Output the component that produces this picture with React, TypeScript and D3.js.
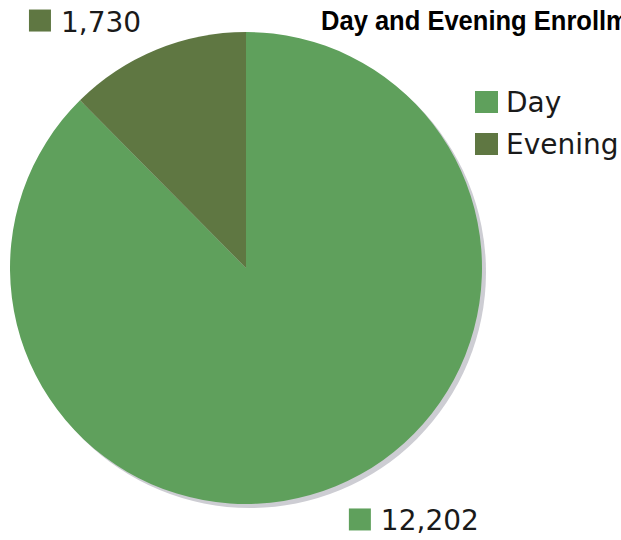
import * as d3 from 'd3';
import React, { useRef, useEffect } from 'react';

const categories = ['Day', 'Evening'];
const values = [12202, 1730];
const colors = ['#5fa05c', '#5f7742'];
const title = 'Day and Evening Enrollment';

const App = () => {
  const ref = useRef(null);
  const width = 621, height = 540;
  const cx = 246, cy = 268, radius = 236;
  const font = 'DejaVu Sans, Verdana, sans-serif';

  useEffect(() => {
    const svg = d3.select(ref.current);
    svg.selectAll('*').remove();

    const data = categories.map((c, i) => ({ name: c, value: values[i] }));
    const pie = d3.pie().value((d) => d.value).sort(null);
    const arcs = pie(data);
    const arc = d3.arc().innerRadius(0).outerRadius(radius);

    // shadow
    svg.append('circle')
      .attr('cx', cx + 4).attr('cy', cy + 4).attr('r', radius)
      .attr('fill', '#cdcdd3');

    const g = svg.append('g').attr('transform', 'translate(' + cx + ',' + cy + ')');
    g.selectAll('path')
      .data(arcs)
      .enter().append('path')
      .attr('d', arc)
      .attr('fill', (d, i) => colors[i]);

    // value labels outside slices, nearest corner on the label circle
    const labelR = 260;
    const fmt = d3.format(',');
    arcs.forEach((d, i) => {
      const a = (d.startAngle + d.endAngle) / 2;
      const x = cx + Math.sin(a) * labelR;
      const y = cy - Math.cos(a) * labelR;
      const lg = svg.append('g');
      const t = lg.append('text')
        .attr('x', 32).attr('y', 22)
        .style('font-family', font)
        .style('font-size', '28px')
        .attr('fill', '#1a1a1a')
        .text(fmt(d.value));
      lg.append('rect').attr('x', 0).attr('y', 0).attr('width', 22).attr('height', 22)
        .attr('fill', colors[i]);
      const w = 32 + t.node().getComputedTextLength();
      const left = Math.sin(a) < 0 ? x - w - 6 : x + 4;
      const top = Math.cos(a) > 0 ? y - 22 + 4 : y;
      lg.attr('transform', 'translate(' + left + ',' + top + ')');
    });

    // title (condensed bold, runs past the right edge)
    const tt = svg.append('text')
      .style('font-family', 'Liberation Sans Narrow, Arial Narrow, Liberation Sans, sans-serif')
      .style('font-weight', 'bold')
      .style('font-size', '28px')
      .attr('fill', '#000')
      .text(title);
    const part = tt.node().getSubStringLength(0, 'Day and Evening Enrollm'.length);
    const sx = 308 / part;
    tt.attr('transform', 'translate(321,30) scale(' + sx + ',1)');

    // legend
    categories.forEach((c, i) => {
      svg.append('rect')
        .attr('x', 475).attr('y', 91 + i * 42)
        .attr('width', 23).attr('height', 22)
        .attr('fill', colors[i]);
      svg.append('text')
        .attr('x', 506).attr('y', 112 + i * 42)
        .style('font-family', font)
        .style('font-size', '28px')
        .attr('fill', '#1a1a1a')
        .text(c);
    });
  });

  return (
    <svg ref={ref} width={width} height={height}
      style={{ position: 'absolute', left: 0, top: 0, background: '#fff' }}></svg>
  );
};

export default App;
